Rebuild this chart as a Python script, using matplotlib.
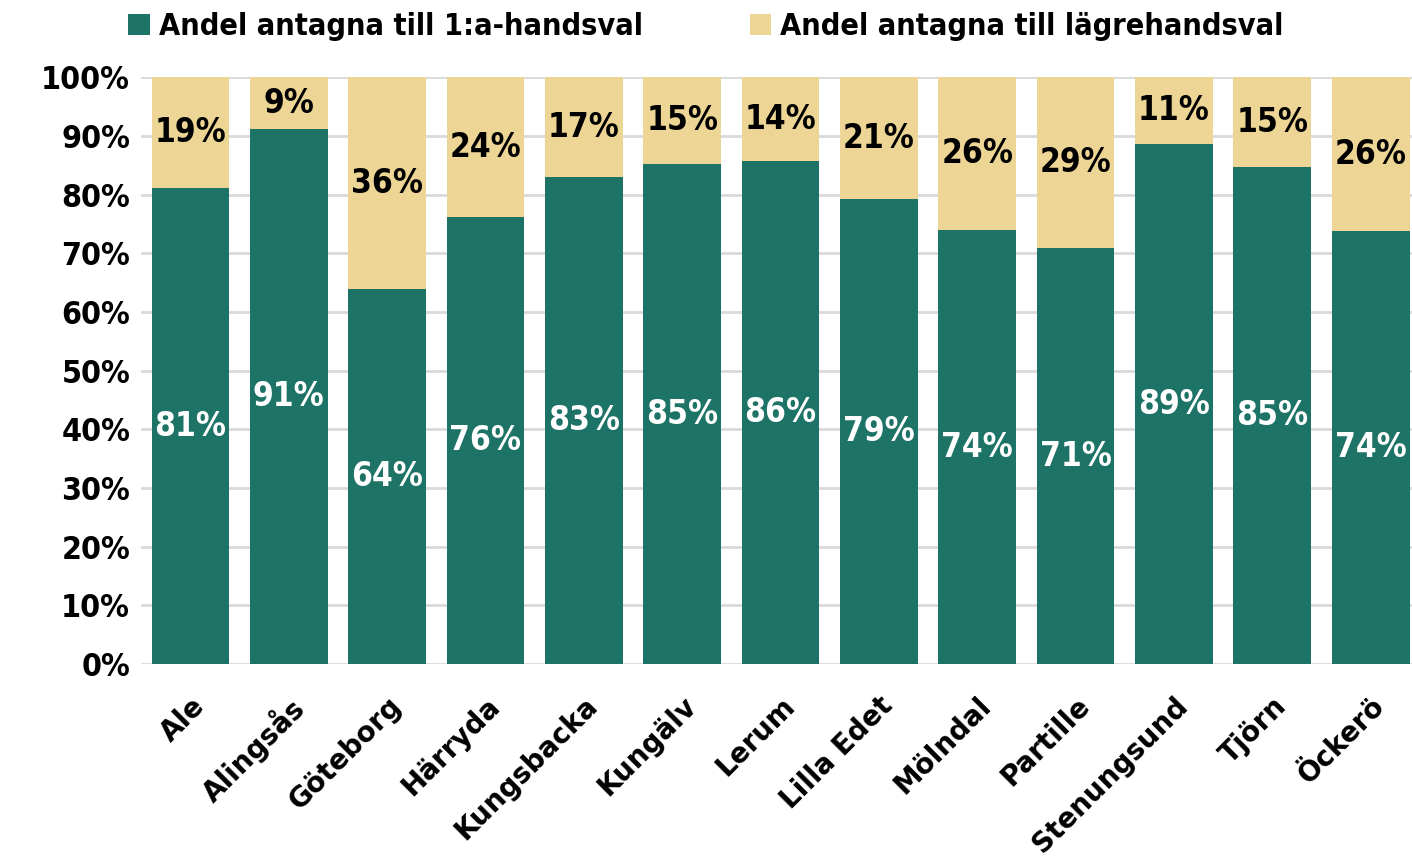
import matplotlib.pyplot as plt
import numpy as np

kommuner = ['Ale', 'Alingsås', 'Göteborg', 'Härryda', 'Kungsbacka', 'Kungälv', 'Lerum',
            'Lilla Edet', 'Mölndal', 'Partille', 'Stenungsund', 'Tjörn', 'Öckerö']
forsta_hand = [81.1, 91.2, 63.9, 76.1, 83.0, 85.2, 85.7, 79.2, 73.9, 70.9, 88.6, 84.7, 73.8]
lagre_hand = [100 - v for v in forsta_hand]

green = '#1D7366'
yellow = '#EDD695'
cond = dict(family='DejaVu Sans', stretch='condensed', weight='bold')

fig = plt.figure(figsize=(14.12, 8.58), dpi=100)
ax = fig.add_axes([0.1, 0.226, 0.9, 0.684])

x = np.arange(len(kommuner))
b1 = ax.bar(x, forsta_hand, width=0.79, color=green, label='Andel antagna till 1:a-handsval', zorder=3)
b2 = ax.bar(x, lagre_hand, width=0.79, bottom=forsta_hand, color=yellow,
            label='Andel antagna till lägrehandsval', zorder=3)

for i, (a, b) in enumerate(zip(forsta_hand, lagre_hand)):
    ax.text(i, a / 2, f'{round(a)}%', ha='center', va='center', color='white',
            fontsize=24, zorder=4, **cond)
    ax.text(i, a + b / 2, f'{round(b)}%', ha='center', va='center', color='black',
            fontsize=24, zorder=4, **cond)

ax.set_xlim(-0.5, 12.42)
ax.set_ylim(0, 100)
ax.set_yticks(range(0, 101, 10))
ax.set_yticklabels([f'{v}%' for v in range(0, 101, 10)], fontsize=23, **cond)
ax.set_xticks(x)
ax.set_xticklabels(kommuner, rotation=45, ha='right', rotation_mode='anchor',
                   fontsize=20, family='DejaVu Sans', weight='bold')
ax.tick_params(length=0)
ax.tick_params(axis='x', pad=20)
ax.tick_params(axis='y', pad=8)
ax.grid(axis='y', color='#D9D9D9', linewidth=2, zorder=0)
for s in ax.spines.values():
    s.set_visible(False)

fig.legend(handles=[b1, b2], loc='upper center', bbox_to_anchor=(0.5, 1.018), ncol=2,
           frameon=False, prop={'family': 'DejaVu Sans', 'stretch': 'condensed',
                                'weight': 'bold', 'size': 22},
           handlelength=0.7, handleheight=0.7, handletextpad=0.3, columnspacing=3.5)

fig.savefig('out.png', dpi=100)
